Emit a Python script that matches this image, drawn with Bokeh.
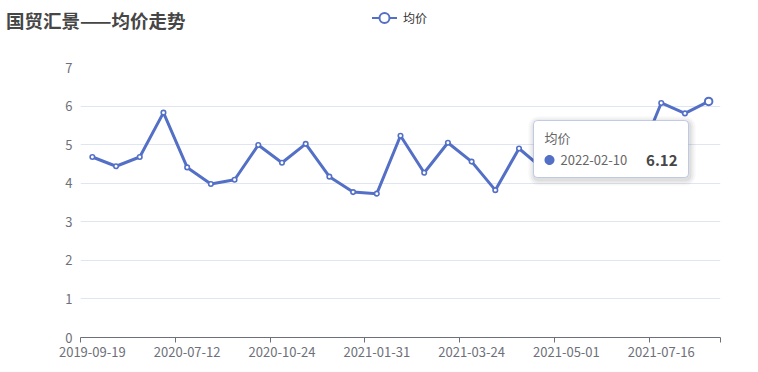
import numpy as np
from bokeh.plotting import figure
from bokeh.layouts import column
from bokeh.models import Range1d, FixedTicker, BoxAnnotation, PolyAnnotation, Label, Div
from bokeh.embed import file_html
from bokeh.resources import INLINE

# ---------------- data ----------------
title_text = "国贸汇景——均价走势"
series_name = "均价"
dates = [
    "2019-09-19", "2019-11-20", "2020-01-15", "2020-05-28",
    "2020-07-12", "2020-08-16", "2020-09-20", "2020-10-10",
    "2020-10-24", "2020-11-14", "2020-12-12", "2021-01-09",
    "2021-01-31", "2021-02-20", "2021-03-06", "2021-03-14",
    "2021-03-24", "2021-04-03", "2021-04-11", "2021-04-18",
    "2021-05-01", "2021-05-22", "2021-06-12", "2021-06-26",
    "2021-07-16", "2021-09-05", "2022-02-10",
]
prices = [
    4.68, 4.44, 4.68, 5.83,
    4.41, 3.98, 4.09, 4.99,
    4.53, 5.02, 4.17, 3.77,
    3.73, 5.23, 4.27, 5.05,
    4.56, 3.82, 4.90, 4.38,
    4.62, 4.85, 4.70, 4.58,
    6.08, 5.81, 6.12,
]
y_ticks = [0, 1, 2, 3, 4, 5, 6, 7]

# ---------------- layout ----------------
W, H = 758, 372
HEAD = 50                            # header strip (title + legend)
FL, FR, FT, FB = 80, 720, 67, 337   # frame edges in page px
BLUE = "#5470C6"
GREY = "#6E7079"
FONT = "Noto Sans CJK SC"

# ---------- header: title + legend (HTML text) ----------
header_html = f"""
<div style="position:relative;width:{W}px;height:{HEAD}px;background:white;
            font-family:'{FONT}';margin:0;padding:0;">
  <span style="position:absolute;left:6px;top:7px;font-size:18.5px;line-height:26px;
               font-weight:bold;color:#464646;white-space:nowrap;">{title_text}</span>
  <svg style="position:absolute;left:372px;top:11px;" width="26" height="14"
       xmlns="http://www.w3.org/2000/svg">
    <line x1="0" y1="7" x2="25" y2="7" stroke="{BLUE}" stroke-width="2"/>
    <circle cx="12.5" cy="7" r="5" fill="white" stroke="{BLUE}" stroke-width="2"/>
  </svg>
  <span style="position:absolute;left:403px;top:9px;font-size:12px;line-height:18px;
               color:#333333;white-space:nowrap;">{series_name}</span>
</div>
"""
hdr = Div(text=header_html, width=W, height=HEAD, margin=0)

# ---------- main chart ----------
n = len(dates)
xs = [i + 0.5 for i in range(n)]
label_idx = list(range(0, n, 4))

p = figure(width=W, height=H - HEAD, output_backend="svg", toolbar_location=None,
           x_range=Range1d(0, n), y_range=Range1d(y_ticks[0], y_ticks[-1]),
           min_border_left=FL, min_border_right=W - FR,
           min_border_top=FT - HEAD, min_border_bottom=H - FB, margin=0)
p.outline_line_color = None
p.background_fill_color = "white"
p.border_fill_color = "white"

xa = p.xaxis[0]
xa.ticker = FixedTicker(ticks=[xs[i] for i in label_idx],
                        minor_ticks=[float(i) for i in label_idx] + [float(n)])
xa.major_label_overrides = {xs[i]: dates[i] for i in label_idx}
xa.axis_line_color = GREY
xa.major_tick_line_color = None
xa.major_tick_out = 0
xa.major_tick_in = 0
xa.minor_tick_line_color = GREY
xa.minor_tick_out = 5
xa.minor_tick_in = 0
xa.major_label_text_color = GREY
xa.major_label_text_font = FONT
xa.major_label_text_font_size = "13px"
xa.major_label_standoff = 4

ya = p.yaxis[0]
ya.ticker = FixedTicker(ticks=y_ticks)
ya.axis_line_color = None
ya.major_tick_line_color = None
ya.major_tick_out = 0
ya.major_tick_in = 0
ya.minor_tick_line_color = None
ya.major_label_text_color = GREY
ya.major_label_text_font = FONT
ya.major_label_text_font_size = "13px"
ya.major_label_standoff = 8

p.xgrid.grid_line_color = None
p.ygrid.grid_line_color = "#E0E6F1"

p.line(xs, prices, line_color=BLUE, line_width=3)
p.scatter(xs[:-1], prices[:-1], size=4.5, fill_color="white",
          line_color=BLUE, line_width=1.6)
p.scatter(xs[-1:], prices[-1:], size=7.5, fill_color="white",
          line_color=BLUE, line_width=2)

# screen units are relative to the frame's bottom-left corner
def sx(cx):
    return cx - FL

def sy(cy):
    return FB - cy

def scr(**kw):
    return dict(left_units="screen", right_units="screen",
                top_units="screen", bottom_units="screen", **kw)

t = np.linspace(0, 2 * np.pi, 40)

# static tooltip
TL, TR, TT, TB = 533, 688, 120, 177
for e, a in [(6, 0.03), (4, 0.04), (2, 0.06)]:
    p.add_layout(BoxAnnotation(**scr(left=sx(TL - e + 1), right=sx(TR + e + 1),
                                     top=sy(TT - e + 2), bottom=sy(TB + e + 2),
                                     fill_color="black", fill_alpha=a, line_color=None,
                                     border_radius=4 + e)))
p.add_layout(BoxAnnotation(**scr(left=sx(TL), right=sx(TR), top=sy(TT), bottom=sy(TB),
                                 fill_color="white", fill_alpha=1, line_color=BLUE,
                                 line_width=1, border_radius=4)))
p.add_layout(Label(x=sx(544), y=sy(137), x_units="screen", y_units="screen",
                   text=series_name, text_font=FONT, text_font_size="13px",
                   text_color="#666666", text_baseline="middle", text_align="left"))
p.add_layout(PolyAnnotation(xs=list(sx(549 + 5 * np.cos(t))), ys=list(sy(159.5 + 5 * np.sin(t))),
                            xs_units="screen", ys_units="screen",
                            fill_color=BLUE, fill_alpha=1, line_color=None))
p.add_layout(Label(x=sx(560), y=sy(159.5), x_units="screen", y_units="screen",
                   text=dates[-1], text_font=FONT, text_font_size="13px",
                   text_color="#666666", text_baseline="middle", text_align="left"))
p.add_layout(Label(x=sx(677), y=sy(159.5), x_units="screen", y_units="screen",
                   text=f"{prices[-1]:.2f}", text_font=FONT, text_font_size="15px",
                   text_font_style="bold", text_color="#464646",
                   text_baseline="middle", text_align="right"))

layout = column(hdr, p, spacing=0)
open("out.html", "w").write(file_html(layout, INLINE))
